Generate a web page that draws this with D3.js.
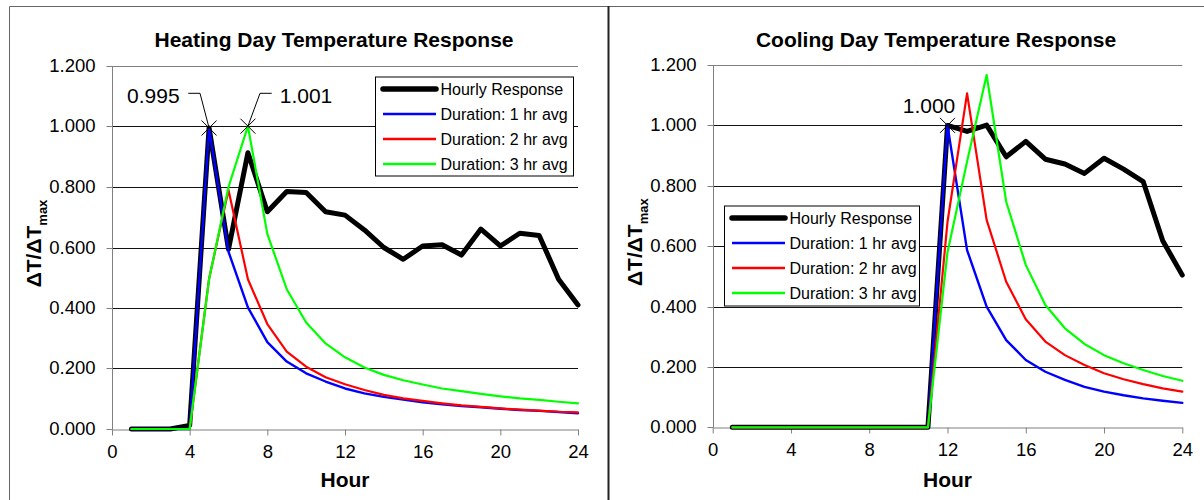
<!DOCTYPE html>
<html>
<head>
<meta charset="utf-8">
<script src="https://cdn.jsdelivr.net/npm/d3@7"></script>
<style>
  html, body { margin: 0; padding: 0; background: #fff; }
  svg { display: block; }
  text { font-family: "Liberation Sans", Arial, sans-serif; }
</style>
</head>
<body>
<svg id="chart" width="1204" height="500"></svg>
<script>
// ---------------- DATA ----------------
const hours = [1,2,3,4,5,6,7,8,9,10,11,12,13,14,15,16,17,18,19,20,21,22,23,24];
const xTicks = [0,4,8,12,16,20,24];
const yTicks = [0,0.2,0.4,0.6,0.8,1.0,1.2];
const seriesNames = ["Hourly Response","Duration: 1 hr avg","Duration: 2 hr avg","Duration: 3 hr avg"];

const heatHourly = [0,0,0,0.012,0.995,0.594,0.913,0.718,0.785,0.782,0.718,0.707,0.658,0.600,0.561,0.605,0.609,0.575,0.661,0.605,0.647,0.640,0.495,0.410];
const heat1hr    = [0,0,0,0,0.995,0.586,0.402,0.287,0.223,0.184,0.157,0.134,0.118,0.106,0.097,0.088,0.082,0.076,0.072,0.067,0.063,0.060,0.056,0.052];
const heat2hr    = [0,0,0,0,0.497,0.790,0.495,0.347,0.256,0.206,0.171,0.148,0.129,0.113,0.101,0.093,0.085,0.078,0.073,0.068,0.064,0.061,0.057,0.055];
const heat3hr    = [0,0,0,0,0.495,0.800,1.001,0.645,0.462,0.352,0.283,0.237,0.203,0.179,0.161,0.147,0.134,0.125,0.116,0.108,0.101,0.096,0.090,0.085];

const coolHourly = [0,0,0,0,0,0,0,0,0,0,0,1.000,0.980,1.001,0.896,0.947,0.888,0.872,0.841,0.891,0.855,0.814,0.618,0.504];
const cool1hr    = [0,0,0,0,0,0,0,0,0,0,0,1.000,0.587,0.400,0.289,0.223,0.184,0.157,0.134,0.118,0.106,0.096,0.088,0.081];
const cool2hr    = [0,0,0,0,0,0,0,0,0,0,0,0.680,1.106,0.687,0.482,0.358,0.284,0.239,0.206,0.179,0.159,0.143,0.129,0.118];
const cool3hr    = [0,0,0,0,0,0,0,0,0,0,0,0.580,0.880,1.167,0.747,0.538,0.405,0.328,0.276,0.239,0.212,0.190,0.170,0.154];

// ---------------- STYLE ----------------
const colors = ["#000000","#0000ff","#ff0000","#00ff00"];
const widths = [5, 2.4, 2.2, 2.2];
const FONT = '"Liberation Sans", Arial, sans-serif';

const svg = d3.select("#chart");

// outer frames
svg.append("line").attr("x1",9.5).attr("x2",1204).attr("y1",6.5).attr("y2",6.5).attr("stroke","#666").attr("stroke-width",1);
svg.append("line").attr("x1",9.5).attr("x2",9.5).attr("y1",6.5).attr("y2",500).attr("stroke","#666").attr("stroke-width",1);
svg.append("line").attr("x1",608.5).attr("x2",608.5).attr("y1",6).attr("y2",500).attr("stroke","#222").attr("stroke-width",2);

function drawChart(cfg) {
  const x = d3.scaleLinear().domain([0,24]).range([cfg.left, cfg.right]);
  const y = d3.scaleLinear().domain([0,1.2]).range([cfg.bottom, cfg.top]);
  const g = svg.append("g");

  // gridlines
  g.append("g").selectAll("line").data(yTicks.filter(d => d > 0)).join("line")
    .attr("x1", cfg.left).attr("x2", cfg.right)
    .attr("y1", d => Math.round(y(d)) + 0.5).attr("y2", d => Math.round(y(d)) + 0.5)
    .attr("stroke", d => d === 1.2 ? "#808080" : "#111")
    .attr("stroke-width", 1);

  // axes
  const yAxis = d3.axisLeft(y).tickValues(yTicks).tickFormat(d3.format(".3f"))
    .tickSize(6).tickSizeOuter(0).tickPadding(11);
  const yg = g.append("g").attr("transform", `translate(${Math.round(cfg.left)+0.5},0)`).call(yAxis);
  yg.select(".domain").attr("stroke","#808080");
  yg.selectAll(".tick line").attr("stroke","#808080");
  yg.selectAll(".tick").attr("transform", d => `translate(0,${Math.round(y(d))+0.5})`);
  yg.selectAll(".tick text").attr("font-family",FONT).attr("font-size","18.5px").attr("fill","#000");

  const xAxis = d3.axisBottom(x).tickValues(xTicks).tickFormat(d3.format("d"))
    .tickSize(6).tickSizeOuter(0).tickPadding(9.5);
  const xg = g.append("g").attr("transform", `translate(0,${Math.round(cfg.bottom)+0.5})`).call(xAxis);
  xg.select(".domain").attr("stroke","#808080");
  xg.selectAll(".tick line").attr("stroke","#808080");
  xg.selectAll(".tick text").attr("font-family",FONT).attr("font-size","18.5px").attr("fill","#000");
  // small left tick at origin crossing (y axis extension)
  yg.select(".domain").attr("d", `M0,${Math.round(cfg.top)+0.5}V${Math.round(cfg.bottom)+0.5}`);

  // lines
  const line = d3.line().x((d,i) => x(hours[i])).y(d => y(d));
  cfg.series.forEach((s, k) => {
    g.append("path").datum(s).attr("d", line)
      .attr("fill","none").attr("stroke", colors[k]).attr("stroke-width", widths[k])
      .attr("stroke-linejoin","round").attr("stroke-linecap","round");
  });

  // annotations
  cfg.annots.forEach(a => {
    const v = a.series[a.hour - 1];
    const px = x(a.hour), py = y(v);
    const m = 7.5;
    g.append("path").attr("d", `M${px-m},${py-m}L${px+m},${py+m}M${px-m},${py+m}L${px+m},${py-m}`)
      .attr("stroke","#000").attr("stroke-width",1).attr("fill","none");
    if (a.leader) {
      g.append("path").attr("d", `M${a.leader[0]},${a.leader[2]}H${a.leader[1]}L${px},${py}`)
        .attr("stroke","#000").attr("stroke-width",1).attr("fill","none");
    }
    g.append("text").attr("x", a.tx).attr("y", a.ty).attr("text-anchor","middle")
      .attr("font-size","21px").attr("fill","#000").text(d3.format(".3f")(a.label));
  });

  // legend
  const L = cfg.legend;
  const lg = g.append("g");
  lg.append("rect").attr("x", L.x + 0.5).attr("y", L.y + 0.5).attr("width", L.w).attr("height", L.h)
    .attr("fill","#fff").attr("stroke","#000").attr("stroke-width",1);
  seriesNames.forEach((name, k) => {
    const cy = L.y + 12.5 + k * 25;
    lg.append("line").attr("x1", L.x + 8).attr("x2", L.x + 61).attr("y1", cy).attr("y2", cy)
      .attr("stroke", colors[k]).attr("stroke-width", k === 0 ? 5.5 : 2.6).attr("stroke-linecap", k === 0 ? "round" : "butt");
    lg.append("text").attr("x", L.x + 65.5).attr("y", cy + 5.8).attr("font-size","16px").attr("fill","#000").text(name);
  });

  // titles
  g.append("text").attr("x", cfg.titleX).attr("y", 46.7).attr("text-anchor","middle")
    .attr("font-size","21px").attr("font-weight","bold").text(cfg.title);
  g.append("text").attr("x", (cfg.left + cfg.right) / 2).attr("y", 486.7).attr("text-anchor","middle")
    .attr("font-size","21px").attr("font-weight","bold").text("Hour");
  const yt = g.append("text")
    .attr("transform", `translate(${cfg.left - 71},${(cfg.top + cfg.bottom) / 2 - 4}) rotate(-90)`)
    .attr("text-anchor","middle").attr("font-size","21px").attr("font-weight","bold");
  yt.append("tspan").text("\u0394T/\u0394T");
  yt.append("tspan").attr("dy", 6).attr("font-size","13px").text("max");
}

drawChart({
  left: 112, right: 578, top: 66, bottom: 429,
  title: "Heating Day Temperature Response", titleX: 334,
  series: [heatHourly, heat1hr, heat2hr, heat3hr],
  annots: [
    { series: heat1hr, hour: 5, label: 0.995, tx: 153.3, ty: 103.3, leader: [188.3, 200, 93.3] },
    { series: heat3hr, hour: 7, label: 1.001, tx: 306, ty: 103.3, leader: [271.7, 260, 93.3] }
  ],
  legend: { x: 375, y: 76.5, w: 198, h: 99 }
});

drawChart({
  left: 712.7, right: 1182.3, top: 65, bottom: 427.3,
  title: "Cooling Day Temperature Response", titleX: 936,
  series: [coolHourly, cool1hr, cool2hr, cool3hr],
  annots: [
    { series: coolHourly, hour: 12, label: 1.000, tx: 929, ty: 113.3, leader: null }
  ],
  legend: { x: 724, y: 205.5, w: 195, h: 100 }
});
</script>
</body>
</html>
